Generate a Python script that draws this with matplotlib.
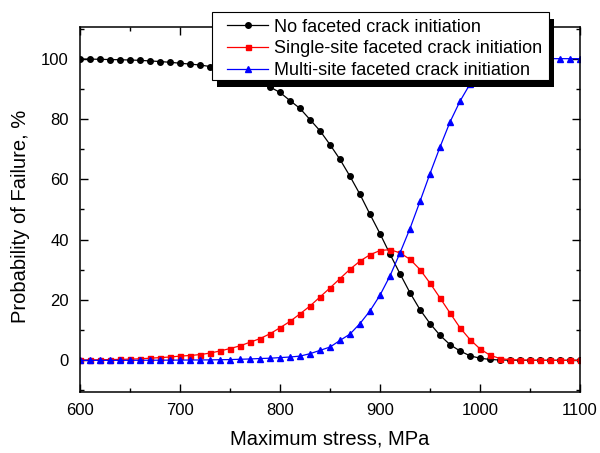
import matplotlib.pyplot as plt
from matplotlib.patches import Rectangle
from matplotlib.ticker import MultipleLocator

plt.rcParams['font.family'] = ['Liberation Sans', 'DejaVu Sans']

# stress levels, MPa
stress = list(range(600, 1101, 10))

no_facet = [99.9, 99.85, 99.8, 99.7, 99.65, 99.55, 99.45, 99.25, 99.05, 98.8,
            98.5, 98.2, 97.9, 97.4, 96.7, 95.8, 94.8, 93.5, 92.2, 90.6,
            88.8, 86.1, 83.5, 79.8, 76.1, 71.5, 66.6, 61.0, 55.0, 48.4,
            42.0, 35.2, 28.7, 22.4, 16.8, 12.2, 8.3, 5.2, 3.1, 1.5,
            0.7, 0.3, 0.1, 0.05, 0, 0, 0, 0, 0, 0, 0]

single_site = [0.1, 0.15, 0.2, 0.25, 0.3, 0.4, 0.5, 0.7, 0.9, 1.1,
               1.4, 1.6, 1.9, 2.4, 3.1, 3.9, 4.8, 6.0, 7.2, 8.8,
               10.8, 12.9, 15.4, 18.0, 21.0, 24.0, 27.1, 30.2, 32.9, 35.0,
               36.4, 36.7, 35.6, 33.5, 30.1, 25.6, 20.7, 15.7, 10.8, 6.9,
               3.8, 1.7, 0.6, 0.2, 0.1, 0.05, 0, 0, 0, 0, 0]

multi_site = [0, 0, 0, 0, 0, 0.01, 0.02, 0.03, 0.04, 0.06,
              0.08, 0.1, 0.12, 0.15, 0.2, 0.25, 0.35, 0.45, 0.6, 0.7,
              0.9, 1.1, 1.4, 2.2, 3.3, 4.4, 6.6, 8.7, 12.2, 16.4,
              21.6, 28.0, 35.6, 43.7, 52.7, 61.9, 70.7, 79.0, 85.9, 91.6,
              95.5, 98.0, 99.3, 99.7, 99.9, 99.95, 100, 100, 100, 100, 100]

W, H = 600, 453
fig = plt.figure(figsize=(6, 4.53), dpi=100)
ax = fig.add_axes([80 / W, 1 - 392 / H, 500 / W, 365 / H])

ax.plot(stress, no_facet, '-o', color='black', lw=0.9, ms=4,
        label='No faceted crack initiation')
ax.plot(stress, single_site, '-s', color='red', lw=0.9, ms=3.6,
        label='Single-site faceted crack initiation')
ax.plot(stress, multi_site, '-^', color='blue', lw=0.9, ms=4.3,
        label='Multi-site faceted crack initiation')

ax.set_xlim(600, 1100)
ax.set_ylim(-10.5, 110.5)
ax.set_yticks([0, 20, 40, 60, 80, 100])
ax.xaxis.set_minor_locator(MultipleLocator(50))
ax.yaxis.set_minor_locator(MultipleLocator(10))
ax.tick_params(which='both', direction='in', top=True, right=True,
               labelsize=12, width=1, pad=8)
ax.tick_params(which='major', length=5.5)
ax.tick_params(which='minor', length=3)
for s in ax.spines.values():
    s.set_linewidth(1.1)

ax.set_xlabel('Maximum stress, MPa', fontsize=14.5, labelpad=8)
ax.set_ylabel('Probability of Failure, %', fontsize=14.5, labelpad=6)
ax.yaxis.set_label_coords(-0.1, 0.482)

leg = fig.legend(loc='upper left', bbox_to_anchor=(227 / W, 1 - 18.5 / H),
                 frameon=False, fontsize=13, handlelength=2.28,
                 borderpad=0, borderaxespad=0, labelspacing=0.27,
                 handletextpad=0.3)
leg.set_zorder(6)

# legend frame with a solid black drop shadow, drawn by hand
x0, y0, x1, y1 = 212, 12, 549, 80
fig.patches.append(Rectangle(((x0 + 4.5) / W, 1 - (y1 + 7) / H),
                             (x1 - x0) / W, (y1 - y0) / H,
                             transform=fig.transFigure, facecolor='black',
                             edgecolor='none', zorder=4))
fig.patches.append(Rectangle((x0 / W, 1 - y1 / H), (x1 - x0) / W,
                             (y1 - y0) / H, transform=fig.transFigure,
                             facecolor='white', edgecolor='black', lw=0.8,
                             zorder=5))

fig.savefig('out.png', dpi=100)
